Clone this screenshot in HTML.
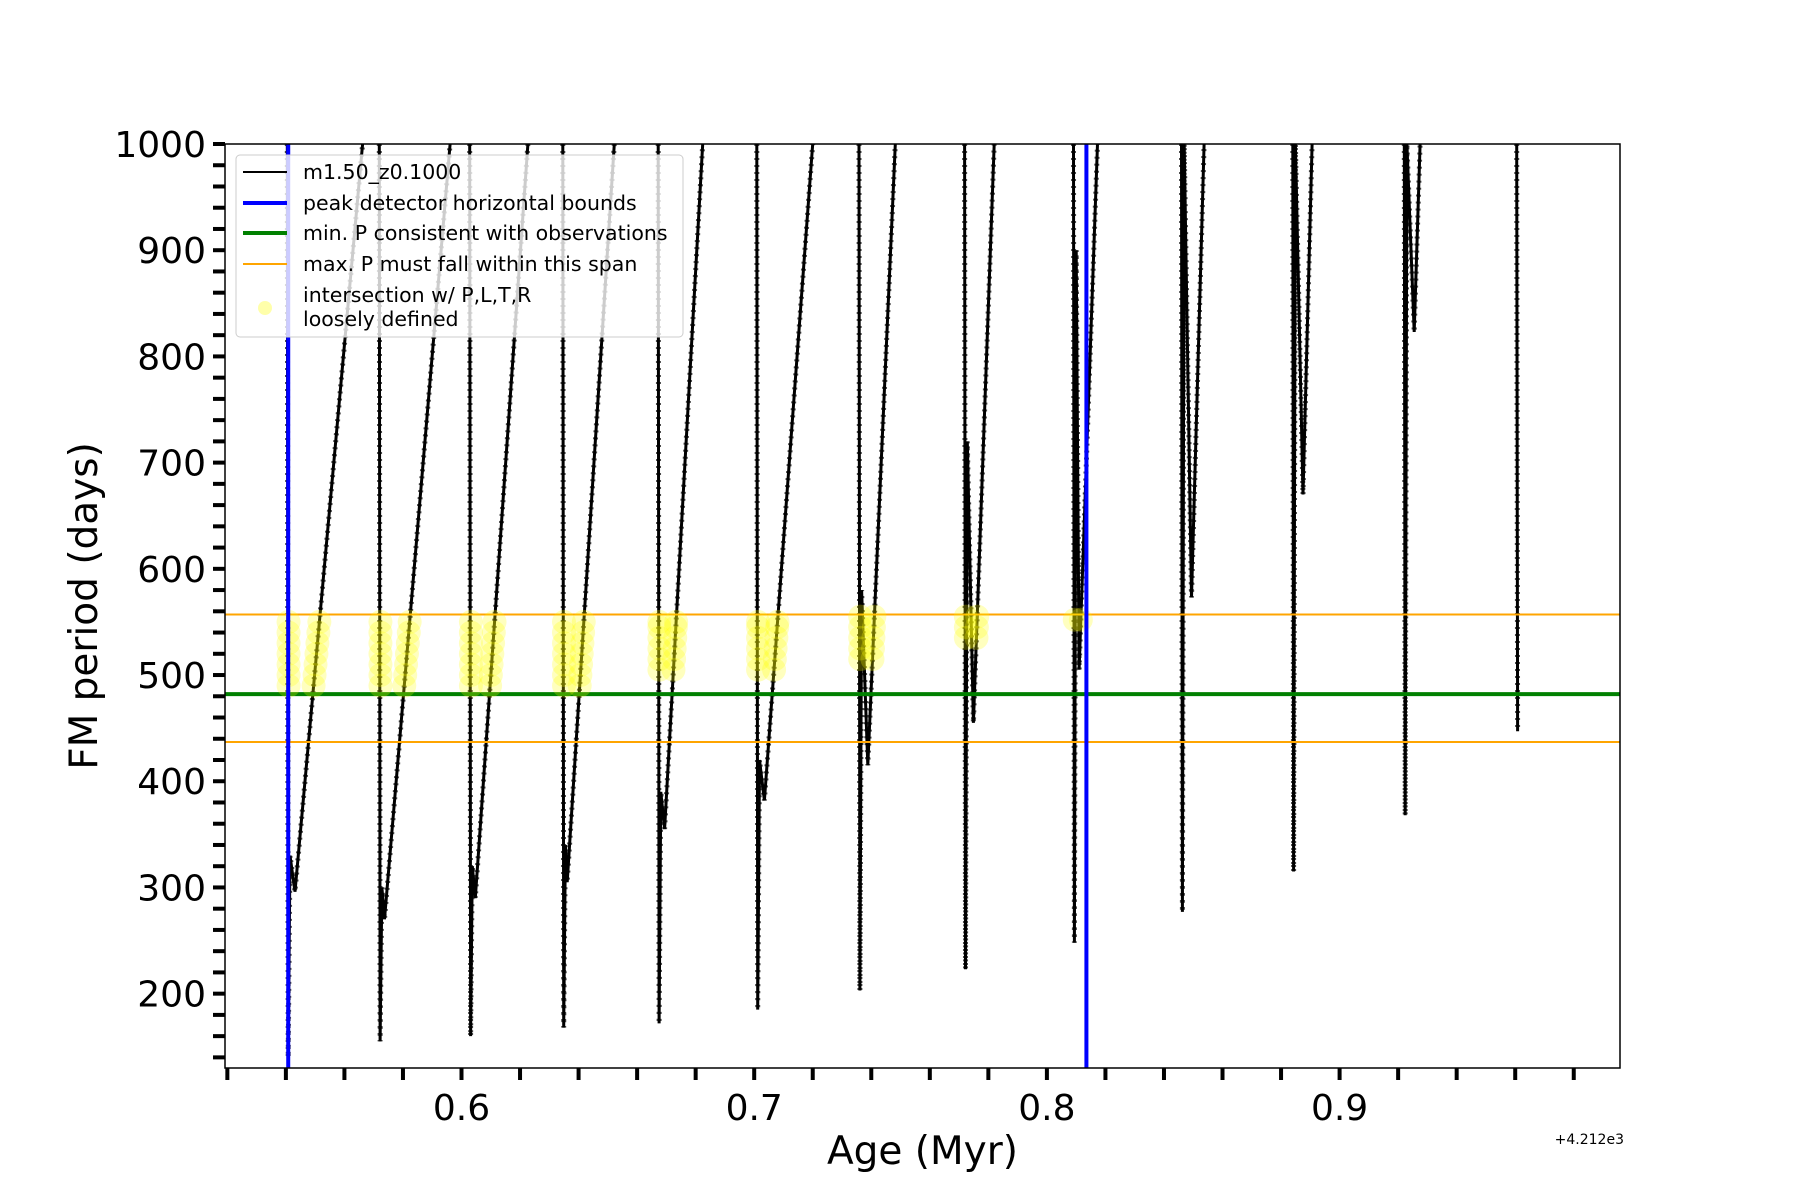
<!DOCTYPE html>
<html><head><meta charset="utf-8"><style>
body{margin:0;background:#fff}
svg{display:block;font-family:"DejaVu Sans","Liberation Sans",sans-serif}
</style></head><body>
<svg id="chart" width="1800" height="1200" viewBox="0 0 1800 1200"></svg>
<script>
// cycle data: drop age, deep minimum, bounce level, secondary-min age, secondary minimum, age where rise reaches top
const dropAge = [0.5408,0.5722,0.6031,0.6349,0.6675,0.7012,0.7361,0.7722,0.8094,0.8463,0.8843,0.9224,0.9608];
const deepMin = [140,155,160,168,172,185,203,223,248,277,315,368,447];
const bounce  = [330,300,320,340,390,420,580,720,900,1000,1000,1000,null];
const secAge  = [0.5431,0.5737,0.6047,0.6361,0.6694,0.7035,0.7388,0.7749,0.8110,0.8494,0.8875,0.9255,null];
const secMin  = [296,270,290,305,355,382,415,455,505,573,670,823,null];
const topAge  = [0.5662,0.5961,0.6227,0.6522,0.6824,0.7200,0.7482,0.7820,0.8173,0.8537,0.8906,0.9275,null];
const blueBounds = [0.5408,0.8135];
const minP = 482;
const maxPSpan = [557,437];
const yellowLevels = [[490,500,510,520,530,540,550],[490,500,510,520,530,540,550],[490,500,510,520,530,540,550],[490,500,510,520,530,540,550],[505,515,525,535,545,550],[505,515,525,535,545,550],[515,525,535,545,555],[535,545,555],[552]];
const xTicks = [0.52,0.54,0.56,0.58,0.6,0.62,0.64,0.66,0.68,0.7,0.72,0.74,0.76,0.78,0.8,0.82,0.84,0.86,0.88,0.9,0.92,0.94,0.96,0.98];
const xLabels = [0.6,0.7,0.8,0.9];
const yLabels = [200,300,400,500,600,700,800,900,1000];

const NS="http://www.w3.org/2000/svg";
const svg=document.getElementById('chart');
const L=225,R=1620,T=144,B=1068,X0=0.5192,X1=0.9958,Y0=130,Y1=1000;
const sx=v=>L+(v-X0)/(X1-X0)*(R-L);
const sy=v=>B-(v-Y0)/(Y1-Y0)*(B-T);
function mk(tag,attrs,parent){const e=document.createElementNS(NS,tag);for(const k in attrs)e.setAttribute(k,attrs[k]);(parent||svg).appendChild(e);return e;}
const defs=mk('defs',{});const cp=mk('clipPath',{id:'clip'},defs);mk('rect',{x:L,y:T,width:R-L,height:B-T},cp);
const plot=mk('g',{'clip-path':'url(#clip)'});



for(let i=0;i<dropAge.length;i++){
  const pts=[[dropAge[i]-0.0003,1000],[dropAge[i],deepMin[i]]];
  if(secAge[i]!==null){
    pts.push([dropAge[i]+0.0006,bounce[i]]);
    pts.push([secAge[i],secMin[i]]);
    pts.push([topAge[i],1000]);
  }
  const d=pts.map((p,j)=>(j?'L':'M')+sx(p[0]).toFixed(1)+','+sy(p[1]).toFixed(1)).join(' ');
  const path=mk('path',{d:d,fill:'none',stroke:'#000','stroke-width':3},plot);
  
  
  const dots=mk('path',{d:d,fill:'none',stroke:'#000','stroke-width':5,'stroke-dasharray':'2 5',opacity:0.7},plot);
  
  
}
maxPSpan.forEach((v,k)=>{const l=mk('line',{x1:L,x2:R,y1:sy(v),y2:sy(v),stroke:'orange','stroke-width':2},plot);

});
const g=mk('line',{x1:L,x2:R,y1:sy(minP),y2:sy(minP),stroke:'green','stroke-width':4},plot);


yellowLevels.forEach((lv,i)=>{lv.forEach(p=>{
  const xs=[dropAge[i]+0.0002*(1-(p-deepMin[i])/(1000-deepMin[i]))];
  if(topAge[i]!==null && p>=secMin[i]) xs.push(secAge[i]+(p-secMin[i])/(1000-secMin[i])*(topAge[i]-secAge[i]));
  xs.forEach(x=>{const c=mk('circle',{cx:sx(x),cy:sy(p),r:12,fill:'yellow',opacity:0.25},plot);
  
  });
});});
blueBounds.forEach((v,k)=>{const l=mk('line',{x1:sx(v),x2:sx(v),y1:T,y2:B,stroke:'blue','stroke-width':4},plot);

});

const fr=mk('rect',{x:L,y:T,width:R-L,height:B-T,fill:'none',stroke:'#000','stroke-width':1.5});


xTicks.forEach(v=>{const t=mk('line',{x1:sx(v),x2:sx(v),y1:B,y2:B+12,stroke:'#000','stroke-width':4});

});
xLabels.forEach(v=>{const t=mk('text',{x:sx(v),y:B+52,'font-size':36,'text-anchor':'middle'});t.textContent=v.toFixed(1);

});
for(let v=140;v<=1000;v+=20){const t=mk('line',{x1:L-12,x2:L,y1:sy(v),y2:sy(v),stroke:'#000','stroke-width':4});

}
yLabels.forEach(v=>{const t=mk('text',{x:L-19,y:sy(v)+13,'font-size':36,'text-anchor':'end'});t.textContent=v;

});
const xt=mk('text',{x:(L+R)/2,y:1164,'font-size':39,'text-anchor':'middle'});xt.textContent='Age (Myr)';


const off=mk('text',{x:1624,y:1144,'font-size':14,'text-anchor':'end'});off.textContent='+4.212e3';


const yt=mk('text',{x:0,y:0,'font-size':39,'text-anchor':'middle',transform:'translate(97,606) rotate(-90)'});yt.textContent='FM period (days)';



const lg=mk('g',{});


mk('rect',{x:236,y:155,width:447,height:182,rx:4,fill:'#fff','fill-opacity':0.8,stroke:'#ccc','stroke-width':1},lg);
const items=[['#000',2,'m1.50_z0.1000',172],['blue',4,'peak detector horizontal bounds',203],['green',4,'min. P consistent with observations',233],['orange',2,'max. P must fall within this span',264]];
items.forEach(it=>{
  mk('line',{x1:243,x2:287,y1:it[3],y2:it[3],stroke:it[0],'stroke-width':it[1]},lg);
  const t=mk('text',{x:303,y:it[3]+7,'font-size':20.5},lg);t.textContent=it[2];
  
  
});
mk('circle',{cx:265,cy:308,r:7,fill:'#ffffaa'},lg);
const t1=mk('text',{x:303,y:302,'font-size':20.5},lg);t1.textContent='intersection w/ P,L,T,R';


const t2=mk('text',{x:303,y:326,'font-size':20.5},lg);t2.textContent='loosely defined';


</script>
</body></html>
